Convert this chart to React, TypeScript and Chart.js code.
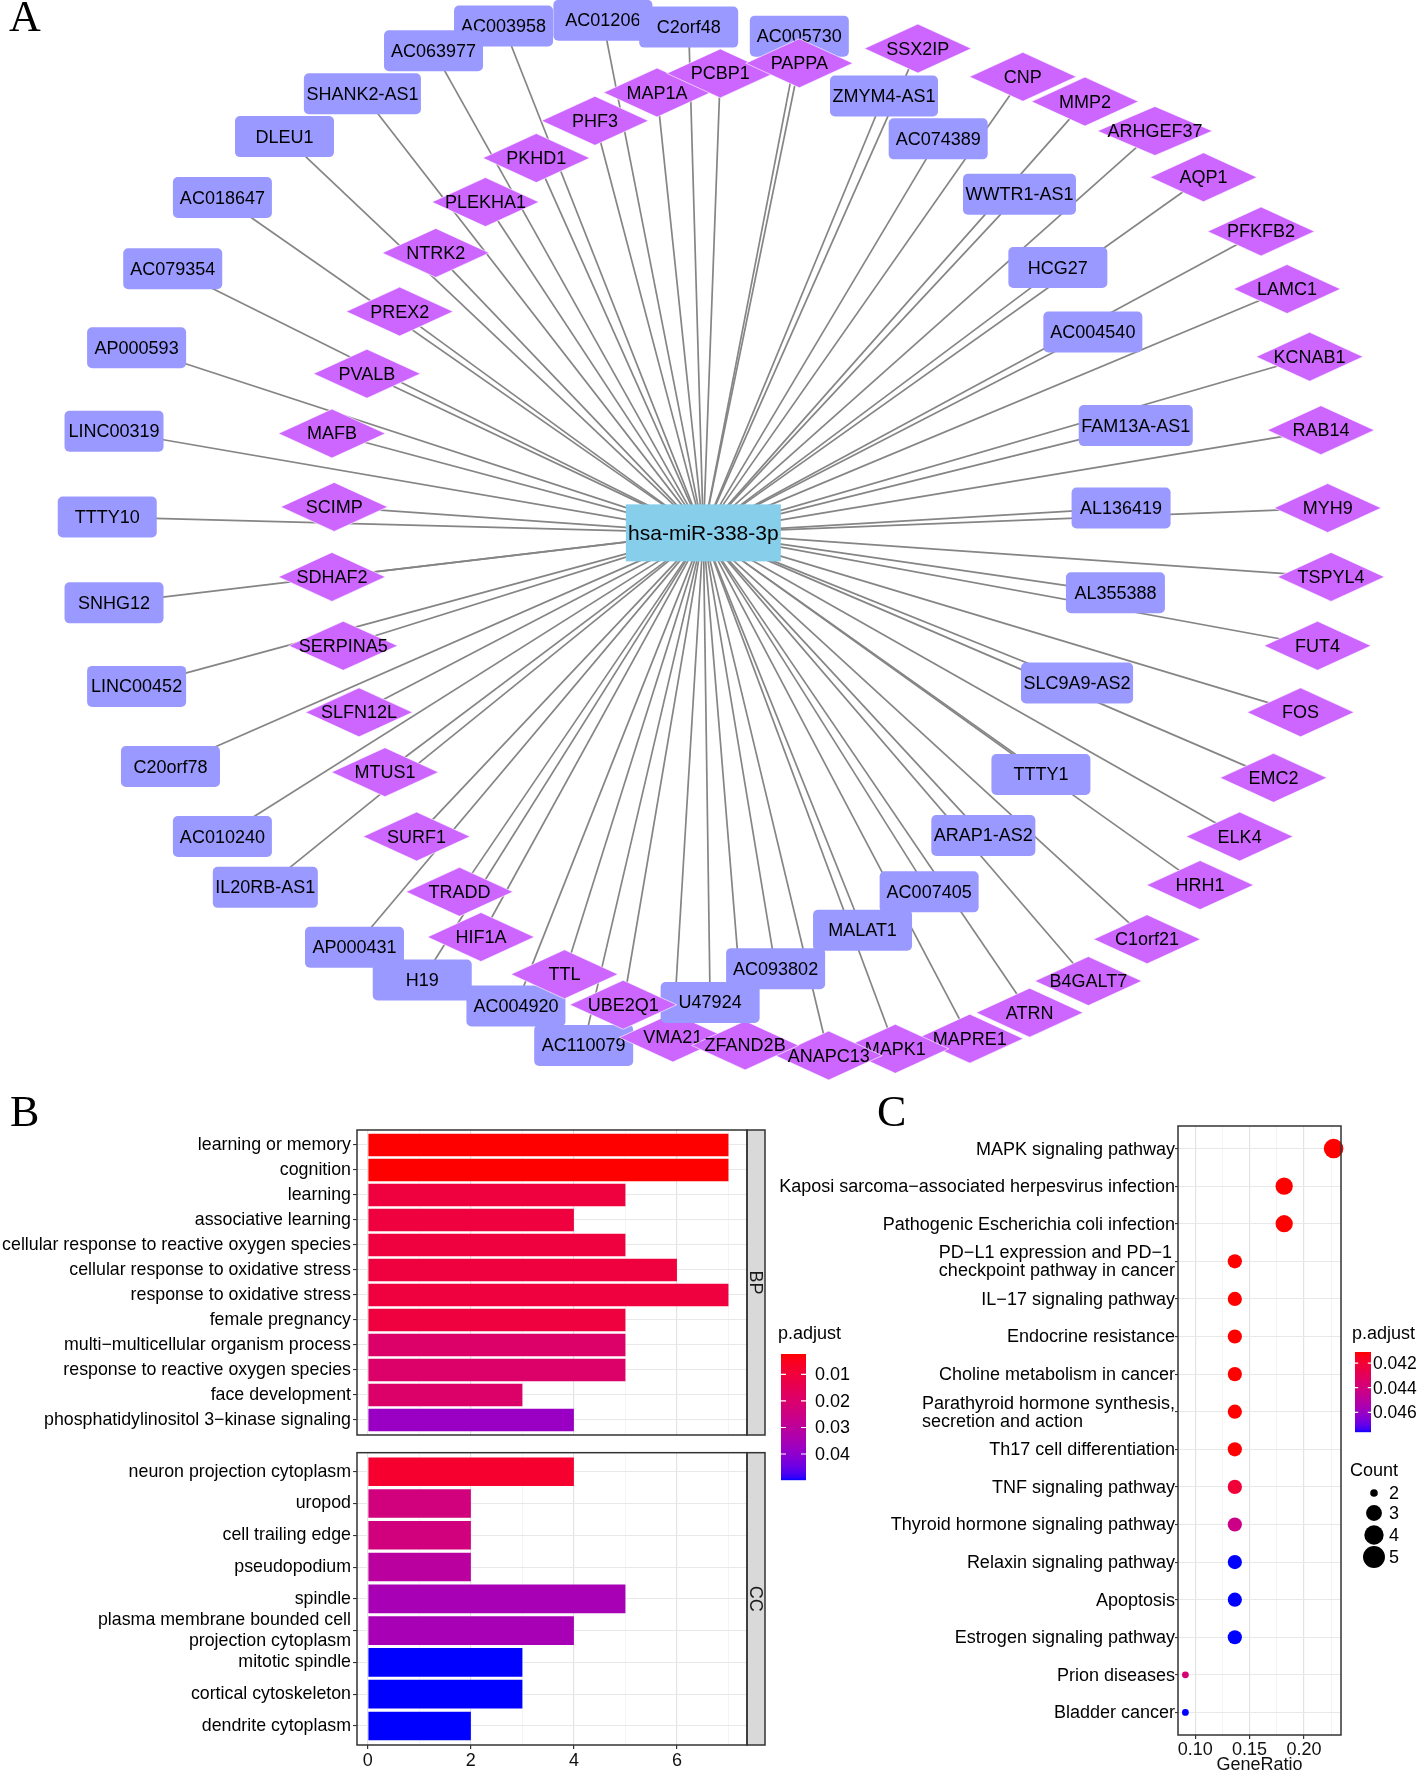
import React, { useEffect, useRef } from 'react';
import { Chart, registerables } from 'chart.js';

Chart.register(...registerables);

const SANS = '"Liberation Sans", Arial, Helvetica, sans-serif';
const SERIF = '"Liberation Serif", "Times New Roman", serif';
Chart.defaults.font.family = SANS;

// ---------------- Panel A : network (layout units) ----------------
const hubName = 'hsa-miR-338-3p';
const hubX = 623;
const hubY = 472;

const lncNames = ['AC003958', 'AC063977', 'AC01206', 'C2orf48', 'AC005730', 'ZMYM4-AS1', 'AC074389', 'WWTR1-AS1', 'HCG27', 'AC004540', 'FAM13A-AS1', 'AL136419', 'AL355388', 'SLC9A9-AS2', 'TTTY1', 'ARAP1-AS2', 'AC007405', 'MALAT1', 'AC093802', 'U47924', 'AC110079', 'AC004920', 'H19', 'AP000431', 'IL20RB-AS1', 'AC010240', 'C20orf78', 'LINC00452', 'SNHG12', 'TTTY10', 'LINC00319', 'AP000593', 'AC079354', 'AC018647', 'DLEU1', 'SHANK2-AS1'];
const lncX = [446, 384, 534, 610, 708, 783, 831, 903, 937, 968, 1006, 993, 988, 954, 922, 871, 823, 764, 687, 629, 517, 457, 374, 314, 235, 197, 151, 121, 101, 95, 101, 121, 153, 197, 252, 321];
const lncY = [23, 45, 18, 24, 32, 85, 123, 172, 237, 294, 377, 450, 525, 605, 686, 740, 790, 824, 858, 888, 926, 891, 868, 839, 786, 741, 679, 608, 534, 458, 382, 308, 238, 175, 121, 83];

const mrnaNames = ['MAP1A', 'PCBP1', 'PAPPA', 'SSX2IP', 'CNP', 'MMP2', 'ARHGEF37', 'AQP1', 'PFKFB2', 'LAMC1', 'KCNAB1', 'RAB14', 'MYH9', 'TSPYL4', 'FUT4', 'FOS', 'EMC2', 'ELK4', 'HRH1', 'C1orf21', 'B4GALT7', 'ATRN', 'MAPRE1', 'MAPK1', 'ANAPC13', 'VMA21', 'ZFAND2B', 'UBE2Q1', 'TTL', 'HIF1A', 'TRADD', 'SURF1', 'MTUS1', 'SLFN12L', 'SERPINA5', 'SDHAF2', 'SCIMP', 'MAFB', 'PVALB', 'PREX2', 'NTRK2', 'PLEKHA1', 'PKHD1', 'PHF3'];
const mrnaX = [582, 638, 708, 813, 906, 961, 1023, 1066, 1117, 1140, 1160, 1170, 1176, 1179, 1167, 1152, 1128, 1098, 1063, 1016, 964, 912, 859, 793, 734, 596, 660, 552, 500, 426, 407, 369, 341, 318, 304, 294, 296, 294, 325, 354, 386, 430, 475, 527];
const mrnaY = [82, 65, 56, 43, 68, 90, 116, 157, 205, 256, 316, 381, 450, 511, 572, 631, 689, 741, 784, 832, 869, 897, 920, 929, 935, 919, 926, 890, 863, 830, 790, 741, 684, 631, 572, 511, 449, 384, 331, 276, 224, 179, 140, 107];

const drawLast = ['U47924', 'UBE2Q1'];

// ---------------- Panel B : GO bar plot ----------------
const bpTerms = ['learning or memory', 'cognition', 'learning', 'associative learning', 'cellular response to reactive oxygen species', 'cellular response to oxidative stress', 'response to oxidative stress', 'female pregnancy', 'multi\u2212multicellular organism process', 'response to reactive oxygen species', 'face development', 'phosphatidylinositol 3\u2212kinase signaling'];
const bpCounts = [7, 7, 5, 4, 5, 6, 7, 5, 5, 5, 3, 4];
const bpPadj = [0.0023, 0.0023, 0.0108, 0.0108, 0.0108, 0.0108, 0.0108, 0.0108, 0.0194, 0.0194, 0.0194, 0.038];

const ccTerms = ['neuron projection cytoplasm', 'uropod', 'cell trailing edge', 'pseudopodium', 'spindle', 'plasma membrane bounded cell\nprojection cytoplasm', 'mitotic spindle', 'cortical cytoskeleton', 'dendrite cytoplasm'];
const ccCounts = [4, 2, 2, 2, 5, 4, 3, 3, 2];
const ccPadj = [0.0079, 0.0234, 0.0234, 0.0308, 0.0351, 0.0351, 0.0498, 0.0498, 0.0498];

const barTickLabels = [0, 2, 4, 6];
const barPadjRange = [0.0023, 0.0498];
const barPadjBreaks = [0.01, 0.02, 0.03, 0.04];

// ---------------- Panel C : KEGG dot plot ----------------
const keggTerms = ['MAPK signaling pathway', 'Kaposi sarcoma\u2212associated herpesvirus infection', 'Pathogenic Escherichia coli infection', 'PD\u2212L1 expression and PD\u22121\ncheckpoint pathway in cancer', 'IL\u221217 signaling pathway', 'Endocrine resistance', 'Choline metabolism in cancer', 'Parathyroid hormone synthesis,\nsecretion and action', 'Th17 cell differentiation', 'TNF signaling pathway', 'Thyroid hormone signaling pathway', 'Relaxin signaling pathway', 'Apoptosis', 'Estrogen signaling pathway', 'Prion diseases', 'Bladder cancer'];
const keggRatio = [0.2273, 0.1818, 0.1818, 0.1364, 0.1364, 0.1364, 0.1364, 0.1364, 0.1364, 0.1364, 0.1364, 0.1364, 0.1364, 0.1364, 0.0909, 0.0909];
const keggCount = [5, 4, 4, 3, 3, 3, 3, 3, 3, 3, 3, 3, 3, 3, 2, 2];
const keggPadj = [0.0411, 0.0411, 0.0411, 0.0411, 0.0411, 0.0411, 0.0411, 0.0411, 0.0411, 0.0421, 0.0443, 0.0476, 0.0476, 0.0476, 0.0438, 0.0476];

const ratioMajor = [0.1, 0.15, 0.2];
const ratioMinor = [0.125, 0.175, 0.225];
const dotPadjRange = [0.0411, 0.0476];
const dotPadjBreaks = [0.042, 0.044, 0.046];
const countBreaks = [2, 3, 4, 5];

// ---------------- colour helpers (Lab interpolation like ggplot) ----------------
function srgb2lin(c: number) { const v = c / 255; return v <= 0.04045 ? v / 12.92 : Math.pow((v + 0.055) / 1.055, 2.4); }
function lin2srgb(v: number) { const c = v <= 0.0031308 ? 12.92 * v : 1.055 * Math.pow(Math.max(v, 0), 1 / 2.4) - 0.055; return Math.round(Math.min(1, Math.max(0, c)) * 255); }
const XN = 0.95047, ZN = 1.08883;
function rgb2lab(rgb: number[]) {
  const r = srgb2lin(rgb[0]), g = srgb2lin(rgb[1]), b = srgb2lin(rgb[2]);
  const x = (0.4124564 * r + 0.3575761 * g + 0.1804375 * b) / XN;
  const y = 0.2126729 * r + 0.7151522 * g + 0.072175 * b;
  const z = (0.0193339 * r + 0.119192 * g + 0.9503041 * b) / ZN;
  const f = (t: number) => (t > 216 / 24389 ? Math.cbrt(t) : ((24389 / 27) * t + 16) / 116);
  const fx = f(x), fy = f(y), fz = f(z);
  return [116 * fy - 16, 500 * (fx - fy), 200 * (fy - fz)];
}
function lab2rgb(lab: number[]) {
  const fy = (lab[0] + 16) / 116, fx = fy + lab[1] / 500, fz = fy - lab[2] / 200;
  const finv = (t: number) => (t * t * t > 216 / 24389 ? t * t * t : (116 * t - 16) / (24389 / 27));
  const x = finv(fx) * XN, y = finv(fy), z = finv(fz) * ZN;
  const r = 3.2404542 * x - 1.5371385 * y - 0.4985314 * z;
  const g = -0.969266 * x + 1.8760108 * y + 0.041556 * z;
  const b = 0.0556434 * x - 0.2040259 * y + 1.0572252 * z;
  return [lin2srgb(r), lin2srgb(g), lin2srgb(b)];
}
const LAB_LOW = rgb2lab([255, 0, 0]);
const LAB_HIGH = rgb2lab([0, 0, 255]);
function padjColor(p: number, range: number[]) {
  const t = Math.min(1, Math.max(0, (p - range[0]) / (range[1] - range[0])));
  const c = lab2rgb(LAB_LOW.map((v, i) => v + (LAB_HIGH[i] - v) * t));
  return `rgb(${c[0]},${c[1]},${c[2]})`;
}
function countRadius(c: number) {
  const lo = countBreaks[0], hi = countBreaks[countBreaks.length - 1];
  return 3.4 + (9.8 - 3.4) * Math.sqrt((c - lo) / (hi - lo));
}

function drawColorbar(ctx: any, o: any) {
  ctx.save();
  ctx.fillStyle = '#000';
  ctx.textAlign = 'left';
  ctx.textBaseline = 'middle';
  ctx.font = `18px ${SANS}`;
  ctx.fillText('p.adjust', o.titleX, o.titleY);
  const span = o.range[1] - o.range[0];
  for (let k = 0; k < o.h; k++) {
    const p = o.range[0] + (span * (k + 0.5)) / o.h;
    ctx.fillStyle = padjColor(p, o.range);
    ctx.fillRect(o.x, o.y + k, o.w, 1.2);
  }
  ctx.font = `${o.fontSize}px ${SANS}`;
  o.breaks.forEach((b: number) => {
    const yy = o.y + ((b - o.range[0]) / span) * o.h;
    ctx.strokeStyle = '#fff';
    ctx.lineWidth = 1.2;
    ctx.beginPath();
    ctx.moveTo(o.x, yy);
    ctx.lineTo(o.x + o.w / 5, yy);
    ctx.moveTo(o.x + o.w - o.w / 5, yy);
    ctx.lineTo(o.x + o.w, yy);
    ctx.stroke();
    ctx.fillStyle = '#000';
    ctx.fillText(o.fmt(b), o.labelX, yy + 1);
  });
  ctx.restore();
}

// ---------------- plugins ----------------
const networkPlugin = {
  id: 'networkNodes',
  afterDatasetsDraw(chart: any) {
    const ctx = chart.ctx;
    const items: any[] = [];
    chart.data.datasets.forEach((ds: any, di: number) => {
      if (!ds.nodeKind) return;
      const meta = chart.getDatasetMeta(di);
      meta.data.forEach((el: any, i: number) => items.push({ kind: ds.nodeKind, name: ds.names[i], x: el.x, y: el.y }));
    });
    const normal = items.filter((it) => !drawLast.includes(it.name));
    const late = items
      .filter((it) => drawLast.includes(it.name))
      .sort((a, b) => drawLast.indexOf(a.name) - drawLast.indexOf(b.name));
    ctx.save();
    ctx.textAlign = 'center';
    ctx.textBaseline = 'middle';
    [...normal, ...late].forEach((it) => {
      if (it.kind === 'rect') {
        ctx.font = `18px ${SANS}`;
        const tw = ctx.measureText(it.name).width;
        const w = Math.max(99, tw + 5);
        const h = 41;
        ctx.beginPath();
        if (ctx.roundRect) ctx.roundRect(it.x - w / 2, it.y - h / 2, w, h, 5);
        else ctx.rect(it.x - w / 2, it.y - h / 2, w, h);
        ctx.fillStyle = '#9999FF';
        ctx.fill();
        ctx.fillStyle = '#000';
        ctx.fillText(it.name, it.x, it.y + 1);
      } else if (it.kind === 'diamond') {
        ctx.font = `18px ${SANS}`;
        const tw = ctx.measureText(it.name).width;
        const w = Math.max(107, tw + 20);
        const h = 49;
        ctx.beginPath();
        ctx.moveTo(it.x - w / 2, it.y);
        ctx.lineTo(it.x, it.y - h / 2);
        ctx.lineTo(it.x + w / 2, it.y);
        ctx.lineTo(it.x, it.y + h / 2);
        ctx.closePath();
        ctx.fillStyle = '#CC66FF';
        ctx.fill();
        ctx.strokeStyle = 'rgba(255,255,255,0.8)';
        ctx.lineWidth = 0.8;
        ctx.stroke();
        ctx.fillStyle = '#000';
        ctx.fillText(it.name, it.x, it.y + 1);
      } else {
        const w = 155, h = 57;
        ctx.fillStyle = '#87CEEB';
        ctx.fillRect(it.x - w / 2, it.y - h / 2, w, h);
        ctx.font = `21px ${SANS}`;
        ctx.fillStyle = '#000';
        ctx.fillText(it.name, it.x, it.y + 1);
      }
    });
    ctx.restore();
  },
};

const facetPlugin = {
  id: 'facet',
  afterDraw(chart: any, _a: any, opts: any) {
    const { ctx, chartArea: a } = chart;
    const sw = 18;
    ctx.save();
    ctx.fillStyle = '#d9d9d9';
    ctx.fillRect(a.right, a.top, sw, a.bottom - a.top);
    ctx.strokeStyle = '#333';
    ctx.lineWidth = 1.5;
    ctx.strokeRect(a.right, a.top, sw, a.bottom - a.top);
    ctx.strokeRect(a.left, a.top, a.right - a.left, a.bottom - a.top);
    ctx.translate(a.right + sw / 2, (a.top + a.bottom) / 2);
    ctx.rotate(Math.PI / 2);
    ctx.fillStyle = '#1a1a1a';
    ctx.font = `18px ${SANS}`;
    ctx.textAlign = 'center';
    ctx.textBaseline = 'middle';
    ctx.fillText(opts.label, 0, 1);
    ctx.restore();
  },
};

const barLegendPlugin = {
  id: 'barLegend',
  afterDraw(chart: any, _a: any, opts: any) {
    if (!opts.show) return;
    const oy = opts.offsetY;
    drawColorbar(chart.ctx, {
      x: 781, y: 1354 - oy, w: 25, h: 126, range: barPadjRange, breaks: barPadjBreaks,
      labelX: 815, titleX: 778, titleY: 1334 - oy, fontSize: 18, fmt: (v: number) => v.toFixed(2),
    });
  },
};

const keggPlugin = {
  id: 'keggDecor',
  afterDraw(chart: any, _a: any, opts: any) {
    const ctx = chart.ctx;
    const ys = chart.scales.y;
    const a = chart.chartArea;
    const ox = opts.offsetX, oy = opts.offsetY;
    ctx.save();
    ctx.font = `18px ${SANS}`;
    ctx.fillStyle = '#000';
    ctx.textAlign = 'left';
    ctx.textBaseline = 'middle';
    keggTerms.forEach((t, i) => {
      const lines = t.split('\n');
      const y = ys.getPixelForValue(i + 1);
      const w = Math.max(...lines.map((l) => ctx.measureText(l).width));
      const x0 = a.left - 3 - w;
      lines.forEach((l, j) => ctx.fillText(l, x0, y + 1 + (j - (lines.length - 1) / 2) * 18));
    });
    ctx.strokeStyle = '#333';
    ctx.lineWidth = 1.5;
    ctx.strokeRect(a.left, a.top, a.right - a.left, a.bottom - a.top);
    ctx.restore();

    drawColorbar(ctx, {
      x: 1355 - ox, y: 1352 - oy, w: 16, h: 80, range: dotPadjRange, breaks: dotPadjBreaks,
      labelX: 1373 - ox, titleX: 1352 - ox, titleY: 1334 - oy, fontSize: 17.5, fmt: (v: number) => v.toFixed(3),
    });

    // size legend
    ctx.save();
    ctx.fillStyle = '#000';
    ctx.textAlign = 'left';
    ctx.textBaseline = 'middle';
    ctx.font = `18px ${SANS}`;
    ctx.fillText('Count', 1350 - ox, 1471 - oy);
    const keyY = [1493, 1513, 1535, 1557];
    countBreaks.forEach((c, i) => {
      ctx.beginPath();
      ctx.arc(1374 - ox, keyY[i] - oy, countRadius(c) * 1.12, 0, Math.PI * 2);
      ctx.fillStyle = '#000';
      ctx.fill();
      ctx.fillText(String(c), 1389 - ox, keyY[i] - oy + 1);
    });
    ctx.restore();
  },
};

// ---------------- chart configs ----------------
function splitLabel(t: string) {
  return t.includes('\n') ? t.split('\n') : t;
}

function makeBarConfig(terms: string[], counts: number[], padj: number[], cfg: any) {
  const n = terms.length;
  return {
    type: 'bar',
    data: {
      datasets: [
        {
          data: counts.map((c, i) => ({ x: c, y: i + 1 })),
          backgroundColor: padj.map((p) => padjColor(p, barPadjRange)),
          borderWidth: 0,
          barPercentage: 0.9,
          categoryPercentage: 1,
        },
      ],
    },
    options: {
      indexAxis: 'y',
      animation: false,
      responsive: false,
      events: [],
      layout: { padding: { top: cfg.padTop, right: cfg.padRight, bottom: cfg.padBottom, left: 0 } },
      plugins: {
        legend: { display: false },
        tooltip: { enabled: false },
        facet: { label: cfg.strip },
        barLegend: { show: cfg.legend, offsetY: cfg.offsetY },
      },
      scales: {
        x: {
          type: 'linear',
          offset: false,
          min: -0.21,
          max: 7.36,
          afterBuildTicks: (s: any) => {
            s.ticks = [0, 1, 2, 3, 4, 5, 6, 7].map((v) => ({ value: v }));
          },
          afterFit: (s: any) => {
            s.height = cfg.xHeight;
          },
          border: { display: false },
          grid: {
            offset: false,
            color: (c: any) => (Math.round(c.tick.value) % 2 === 0 ? '#e3e3e3' : '#efefef'),
            lineWidth: (c: any) => (Math.round(c.tick.value) % 2 === 0 ? 1.2 : 0.7),
            tickColor: (c: any) => (Math.round(c.tick.value) % 2 === 0 ? '#333' : 'rgba(0,0,0,0)'),
            tickLength: 4,
            drawTicks: cfg.showX,
          },
          ticks: {
            display: cfg.showX,
            callback: (v: number) => (barTickLabels.includes(Math.round(v)) && Math.abs(v - Math.round(v)) < 1e-6 ? String(Math.round(v)) : ''),
            font: { family: SANS, size: 18 },
            color: '#111',
            padding: 1,
            maxRotation: 0,
            autoSkip: false,
          },
        },
        y: {
          type: 'linear',
          offset: false,
          reverse: true,
          min: 0.4,
          max: n + 0.6,
          afterBuildTicks: (s: any) => {
            s.ticks = terms.map((_, i) => ({ value: i + 1 }));
          },
          afterFit: (s: any) => {
            s.width = 357;
          },
          border: { display: false },
          grid: { offset: false, color: '#e8e8e8', lineWidth: 1.1, tickColor: '#333', tickLength: 4 },
          ticks: {
            callback: (v: number) => splitLabel(terms[Math.round(v) - 1] || ''),
            font: { family: SANS, size: 17.8, lineHeight: 1.2 },
            color: '#000',
            padding: 2,
            autoSkip: false,
          },
        },
      },
    },
    plugins: [facetPlugin, barLegendPlugin],
  };
}

function makeNetworkConfig() {
  const edgePts = [
    ...lncNames.map((_, i) => ({ x: lncX[i], y: lncY[i] })),
    ...mrnaNames.map((_, i) => ({ x: mrnaX[i], y: mrnaY[i] })),
  ];
  const datasets: any[] = edgePts.map((p) => ({
    data: [{ x: hubX, y: hubY }, p],
    showLine: true,
    borderColor: '#858585',
    borderWidth: 1.7,
    pointRadius: 0,
    fill: false,
  }));
  datasets.push({ nodeKind: 'rect', names: lncNames, data: lncNames.map((_, i) => ({ x: lncX[i], y: lncY[i] })), pointRadius: 0 });
  datasets.push({ nodeKind: 'diamond', names: mrnaNames, data: mrnaNames.map((_, i) => ({ x: mrnaX[i], y: mrnaY[i] })), pointRadius: 0 });
  datasets.push({ nodeKind: 'hub', names: [hubName], data: [{ x: hubX, y: hubY }], pointRadius: 0 });
  return {
    type: 'scatter',
    data: { datasets },
    options: {
      animation: false,
      responsive: false,
      events: [],
      layout: { padding: 0 },
      plugins: { legend: { display: false }, tooltip: { enabled: false } },
      scales: {
        x: { type: 'linear', display: false, min: 0, max: 1256 },
        y: { type: 'linear', display: false, min: 0, max: 965.5, reverse: true },
      },
    },
    plugins: [networkPlugin],
  };
}

function makeDotConfig(offsetX: number, offsetY: number) {
  const n = keggTerms.length;
  const allTicks = [...ratioMajor, ...ratioMinor].sort((a, b) => a - b);
  const isMajor = (v: number) => ratioMajor.some((m) => Math.abs(m - v) < 1e-9);
  return {
    type: 'scatter',
    data: {
      datasets: [
        {
          data: keggRatio.map((r, i) => ({ x: r, y: i + 1 })),
          pointRadius: keggCount.map((c) => countRadius(c)),
          backgroundColor: keggPadj.map((p) => padjColor(p, dotPadjRange)),
          borderWidth: 0,
          pointStyle: 'circle',
          clip: false,
        },
      ],
    },
    options: {
      animation: false,
      responsive: false,
      events: [],
      layout: { padding: { top: 26, right: 77, bottom: 0, left: 0 } },
      plugins: {
        legend: { display: false },
        tooltip: { enabled: false },
        keggDecor: { offsetX, offsetY },
      },
      scales: {
        x: {
          type: 'linear',
          min: 0.0841,
          max: 0.2341,
          afterBuildTicks: (s: any) => {
            s.ticks = allTicks.map((v) => ({ value: v }));
          },
          afterFit: (s: any) => {
            s.height = 45;
          },
          border: { display: false },
          grid: {
            color: (c: any) => (isMajor(c.tick.value) ? '#e3e3e3' : '#efefef'),
            lineWidth: (c: any) => (isMajor(c.tick.value) ? 1.2 : 0.7),
            tickColor: (c: any) => (isMajor(c.tick.value) ? '#333' : 'rgba(0,0,0,0)'),
            tickLength: 4,
          },
          ticks: {
            callback: (v: number) => (isMajor(v) ? v.toFixed(2) : ''),
            font: { family: SANS, size: 18 },
            color: '#111',
            padding: 0,
            maxRotation: 0,
            autoSkip: false,
          },
          title: {
            display: true,
            text: 'GeneRatio',
            font: { family: SANS, size: 18 },
            color: '#111',
            padding: { top: 0, bottom: 4 },
          },
        },
        y: {
          type: 'linear',
          reverse: true,
          min: 0.4,
          max: n + 0.6,
          afterBuildTicks: (s: any) => {
            s.ticks = keggTerms.map((_, i) => ({ value: i + 1 }));
          },
          afterFit: (s: any) => {
            s.width = 1178 - offsetX;
          },
          border: { display: false },
          grid: { color: '#e8e8e8', lineWidth: 1.1, tickColor: '#333', tickLength: 3 },
          ticks: { callback: () => '', autoSkip: false, padding: 0 },
        },
      },
    },
    plugins: [keggPlugin],
  };
}

// ---------------- components ----------------
function ChartCanvas({ make, left, top, width, height }: any) {
  const ref = useRef<HTMLCanvasElement>(null);
  useEffect(() => {
    const chart = new Chart(ref.current as HTMLCanvasElement, make() as any);
    return () => chart.destroy();
  }, []);
  return (
    <canvas
      ref={ref}
      width={width}
      height={height}
      style={{ position: 'absolute', left, top, width, height, display: 'block' }}
    />
  );
}

function Letter({ t, left, top }: any) {
  return (
    <div style={{ position: 'absolute', left, top, fontFamily: SERIF, fontSize: 44, lineHeight: '44px', color: '#000' }}>
      {t}
    </div>
  );
}

export default function App() {
  const bpTop = 1100;
  const ccTop = 1440;
  const cLeft = 750;
  const cTop = 1100;
  return (
    <div style={{ position: 'absolute', left: 0, top: 0, width: 1418, height: 1770, overflow: 'hidden', background: '#fff' }}>
      <ChartCanvas make={makeNetworkConfig} left={0} top={0} width={1418} height={1090} />
      <ChartCanvas
        make={() =>
          makeBarConfig(bpTerms, bpCounts, bpPadj, {
            padTop: 30, padRight: 123, padBottom: 65, xHeight: 0, showX: false, strip: 'BP', legend: true, offsetY: bpTop,
          })
        }
        left={0}
        top={bpTop}
        width={870}
        height={400}
      />
      <ChartCanvas
        make={() =>
          makeBarConfig(ccTerms, ccCounts, ccPadj, {
            padTop: 2, padRight: 123, padBottom: 0, xHeight: 25, showX: true, strip: 'CC', legend: false, offsetY: ccTop,
          })
        }
        left={0}
        top={ccTop}
        width={870}
        height={330}
      />
      <ChartCanvas make={() => makeDotConfig(cLeft, cTop)} left={cLeft} top={cTop} width={668} height={680} />
      <Letter t="A" left={9} top={-5} />
      <Letter t="B" left={10} top={1090} />
      <Letter t="C" left={877} top={1090} />
    </div>
  );
}
